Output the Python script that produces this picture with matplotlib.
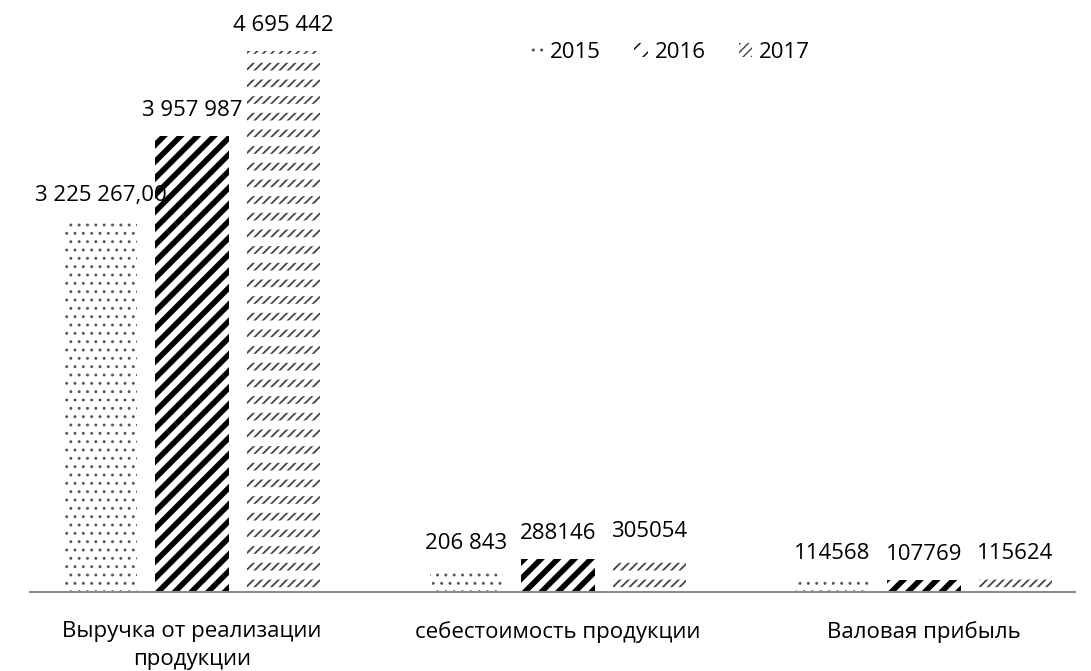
import numpy as np
import matplotlib
matplotlib.use("Agg")
from matplotlib import pyplot as plt

# data
categories = ["Выручка от реализации\nпродукции", "себестоимость продукции", "Валовая прибыль"]
years = ["2015", "2016", "2017"]
values_2015 = [3225267.00, 206843, 114568]
values_2016 = [3957987, 288146, 107769]
values_2017 = [4695442, 305054, 115624]
labels_2015 = ["3 225 267,00", "206 843", "114568"]
labels_2016 = ["3 957 987", "288146", "107769"]
labels_2017 = ["4 695 442", "305054", "115624"]

plt.rcParams['font.family'] = ['Open Sans', 'DejaVu Sans']
FS = 16

fig = plt.figure(figsize=(10.91, 6.71), dpi=100)
ax = fig.add_axes([30 / 1091, 1 - 592 / 671, 1045 / 1091, 572 / 671])

x = np.arange(len(categories))
step = 0.25
width = 0.2

series = [
    (values_2015, labels_2015, '..', 0.9, '#555555'),
    (values_2016, labels_2016, '//', 4.0, 'black'),
    (values_2017, labels_2017, '////', 1.3, '#444444'),
]

for i, (vals, labs, hatch, hlw, hcol) in enumerate(series):
    pos = x + (i - 1) * step
    bars = ax.bar(pos, vals, width, facecolor='white', edgecolor=hcol,
                  hatch=hatch, linewidth=0, label=years[i])
    for b in bars:
        if hasattr(b, 'set_hatch_linewidth'):
            b.set_hatch_linewidth(hlw)
    if i == 2:
        # white horizontal cuts turn the fine diagonals into rows of dashes
        cuts = ax.bar(pos, vals, width, facecolor='none', edgecolor='white',
                      hatch='-', linewidth=0)
        for b in cuts:
            if hasattr(b, 'set_hatch_linewidth'):
                b.set_hatch_linewidth(6.5)
    for p, v, t in zip(pos, vals, labs):
        ax.annotate(t, (p, v), xytext=(0, 14), textcoords='offset points',
                    ha='center', va='baseline', fontsize=FS)

ax.set_xlim((30 - 192) / 366, (1075 - 192) / 366)
ax.set_ylim(0, 572 / 115.3 * 1e6)
ax.set_xticks(x)
ax.set_xticklabels(categories, fontsize=FS, linespacing=1.45)
ax.tick_params(axis='x', length=0, pad=21)
ax.set_yticks([])
for s in ['top', 'right', 'left']:
    ax.spines[s].set_visible(False)
ax.spines['bottom'].set_color('#8c8c8c')
ax.spines['bottom'].set_linewidth(1.5)

fig.legend(loc='center', bbox_to_anchor=(670 / 1091, 1 - 52 / 671), ncol=3,
           frameon=False, fontsize=FS, handlelength=0.6, handleheight=0.6,
           columnspacing=1.5, handletextpad=0.3)

fig.savefig("out.png", dpi=100)
